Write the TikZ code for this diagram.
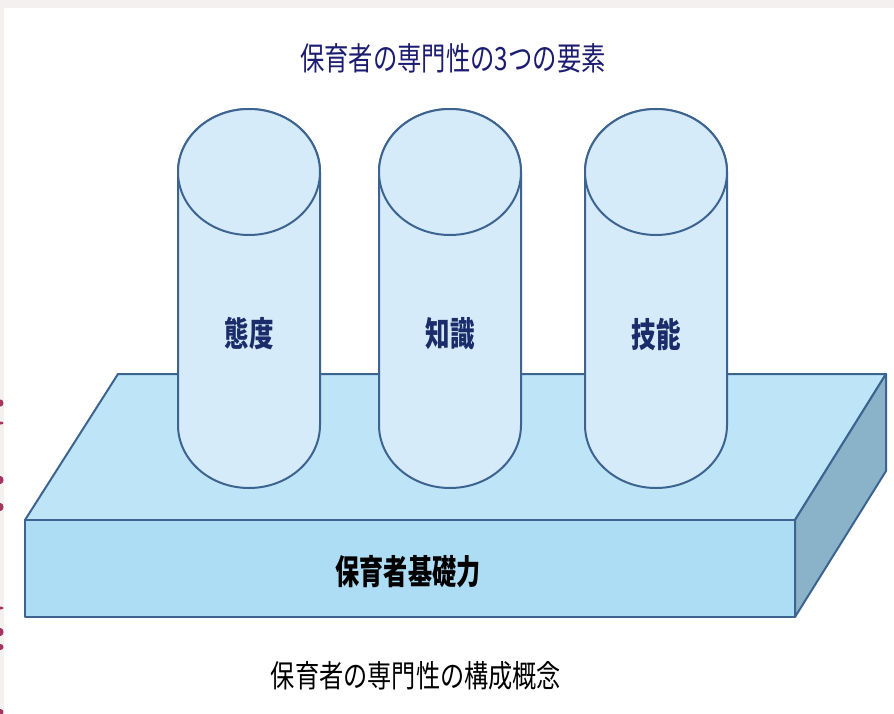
\documentclass[tikz,border=0pt]{standalone}
\usepackage{fontspec}
\newfontfamily\jp{Noto Sans CJK JP}
\definecolor{edge}{HTML}{3D6490}
\definecolor{cylfill}{HTML}{D5EBFA}
\definecolor{slabtop}{HTML}{BDE4F7}
\definecolor{slabfront}{HTML}{ACDDF5}
\definecolor{slabside}{HTML}{8AB2C8}
\definecolor{navytxt}{HTML}{1C1C70}
\definecolor{labtxt}{HTML}{1A2D6A}
\definecolor{bandgray}{HTML}{F3F0EF}
\definecolor{pinkmark}{HTML}{A3375F}
\tikzset{
  face/.style={draw=edge, line width=2pt, line join=round},
  cyl/.style={draw=edge, line width=2pt, fill=cylfill},
  lab/.style={font=\jp\bfseries\fontsize{34}{36}\selectfont, text=labtxt, inner sep=0pt, xscale=0.72},
  baselab/.style={font=\jp\bfseries\fontsize{34}{36}\selectfont, text=black, inner sep=0pt, xscale=0.71},
  ttl/.style={font=\jp\fontsize{32}{36}\selectfont, text=navytxt, inner sep=0pt, xscale=0.76},
  captxt/.style={font=\jp\fontsize{31}{36}\selectfont, text=black, inner sep=0pt, xscale=0.78}
}
\begin{document}
\begin{tikzpicture}[x=1pt,y=-1pt]
\useasboundingbox (0,0) rectangle (894,714);
\fill[white] (0,0) rectangle (894,714);
% page edge bands
\fill[bandgray] (0,0) rectangle (894,8);
\fill[bandgray] (0,0) rectangle (3.5,714);
% cropped marks at left edge
\foreach \yy/\rr in {403/3.5, 423/1.5, 480/4, 507/4, 608/1.5, 632/4, 647/3, 712/3}
  \fill[pinkmark] (0.5,\yy) ellipse [x radius=3pt, y radius=\rr pt];
% slab
\filldraw[face, fill=slabtop] (25,520) -- (118,374) -- (886,374) -- (795,520) -- cycle;
\filldraw[face, fill=slabside] (795,520) -- (886,374) -- (886,471) -- (795,617) -- cycle;
\filldraw[face, fill=slabfront] (25,520) rectangle (795,617);
% cylinders
\foreach \cx/\nm in {249/a, 450/b, 656/c} {
  \filldraw[cyl] (\cx-71,172) -- (\cx-71,425)
     arc[start angle=180, end angle=360, x radius=71pt, y radius=63pt]
     -- (\cx+71,172)
     arc[start angle=0, end angle=180, x radius=71pt, y radius=63pt] -- cycle;
  \filldraw[cyl] (\cx,172) ellipse [x radius=71pt, y radius=63pt];
  \coordinate (cyl\nm) at (\cx,334);
}
\node[lab] (lta) at (cyla) {態度};
\node[lab] (ltb) at (cylb) {知識};
\node[lab] (ltc) at (cylc) {技能};
\node[baselab] (base) at (408,572) {保育者基礎力};
\node[ttl] (title) at (453,58) {保育者の専門性の3つの要素};
\node[captxt] (capt) at (416,676) {保育者の専門性の構成概念};
\end{tikzpicture}
\end{document}
